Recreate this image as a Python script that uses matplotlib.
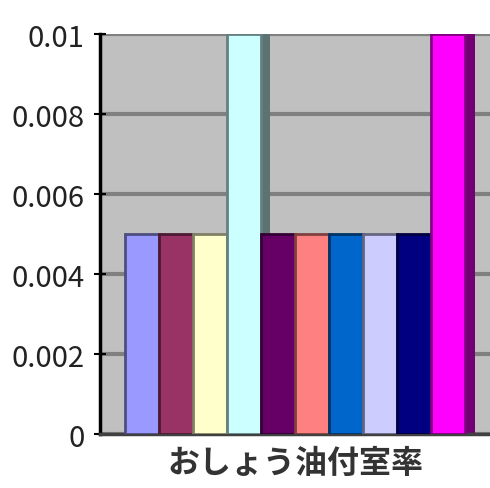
import matplotlib
matplotlib.use("Agg")
import matplotlib.pyplot as plt
import matplotlib.colors as mcolors
import numpy as np

plt.rcParams['font.family'] = ['Noto Sans CJK JP', 'DejaVu Sans']

category = "おしょう油付室率"
series_values = [0.005, 0.005, 0.005, 0.01, 0.005, 0.005, 0.005, 0.005, 0.005, 0.01]
series_colors = ['#9999FF', '#993366', '#FFFFCC', '#CCFFFF', '#660066',
                 '#FF8080', '#0066CC', '#CCCCFF', '#000080', '#FF00FF']
y_ticks = [0, 0.002, 0.004, 0.006, 0.008, 0.01]
y_tick_labels = ['0', '0.002', '0.004', '0.006', '0.008', '0.01']

fig = plt.figure(figsize=(4.9, 4.89), dpi=100)
ax = fig.add_axes([0.204, 0.110, 0.796, 0.818])
ax.set_facecolor('#C0C0C0')

def darker(c, f=0.5):
    r, g, b = mcolors.to_rgb(c)
    return (r * f, g * f, b * f)

x = np.arange(len(series_values))
bar_w = 1.0
side_w = 0.28
for i, (v, c) in enumerate(zip(series_values, series_colors)):
    # side face (pseudo 3D), hidden by the next bar where it is as tall
    ax.bar(x[i] + bar_w / 2, v, width=side_w, align='edge',
           color=darker(c, 0.45), linewidth=0, zorder=2)
    ax.bar(x[i], v, width=bar_w, color=c, edgecolor=darker(c), linewidth=2.0, zorder=3)

ax.set_xlim(-1.235, 10.235)
ax.set_ylim(0, 0.01)
ax.set_yticks(y_ticks)
ax.set_yticklabels(y_tick_labels, fontsize=21, color='#222222')
ax.yaxis.grid(True, color='#808080', linewidth=3, zorder=0)
ax.set_axisbelow(True)
ax.tick_params(axis='y', direction='inout', length=8, width=1.5, pad=7)
ax.set_xticks([np.mean(x)])
ax.set_xticklabels([category], fontsize=23, fontweight='bold', color='#333333')
ax.tick_params(axis='x', length=0, pad=9)

for s in ['top', 'right']:
    ax.spines[s].set_visible(False)
ax.spines['left'].set_linewidth(2.5)
ax.spines['bottom'].set_linewidth(2.5)
ax.spines['bottom'].set_color('#404040')

fig.savefig('out.png', dpi=100)
